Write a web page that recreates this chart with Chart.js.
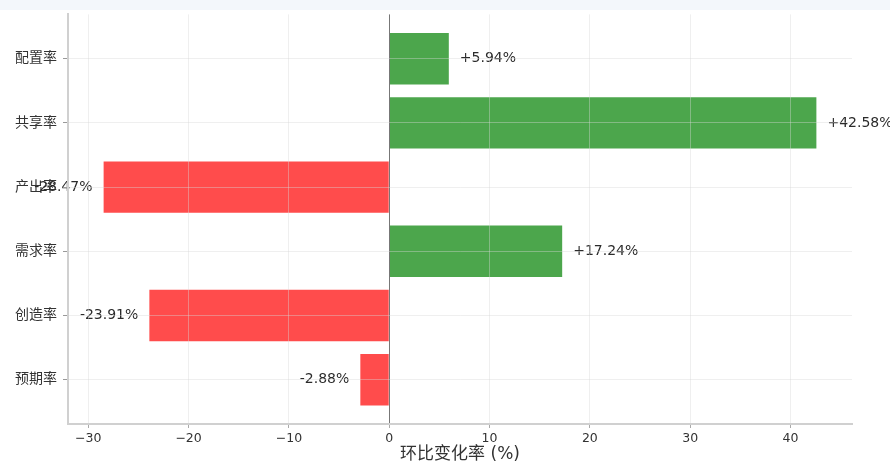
<!DOCTYPE html>
<html>
<head>
<meta charset="utf-8">
<script src="https://cdn.jsdelivr.net/npm/chart.js@4/dist/chart.umd.min.js"></script>
<style>
    html, body { margin: 0; padding: 0; background: #ffffff; }
    #wrap { position: relative; width: 890px; height: 462px; }
    #topStrip { position: absolute; left: 0; top: 0; width: 890px; height: 10px; background: #f3f7fb; z-index: 2; }
</style>
</head>
<body>
<div id="wrap">
    <div id="topStrip"></div>
    <canvas id="rateChart" width="890" height="462"></canvas>
</div>
<script>
// Categories (top to bottom) and month-over-month change in %
const categories = ['配置率', '共享率', '产出率', '需求率', '创造率', '预期率'];
const changes = [5.94, 42.58, -28.47, 17.24, -23.91, -2.88];
const xTickValues = [-30, -20, -10, 0, 10, 20, 30, 40];

const GREEN = 'rgba(0, 128, 0, 0.7)';
const RED = 'rgba(255, 0, 0, 0.7)';
const FONT = '"DejaVu Sans", "Noto Sans CJK SC", sans-serif';
const GRID = 'rgba(215, 215, 215, 0.4)';

// Draws "+5.94%" style labels next to each bar end
const valueLabels = {
    id: 'valueLabels',
    afterDatasetsDraw(chart) {
        const ctx = chart.ctx;
        const xs = chart.scales.x;
        const ys = chart.scales.y;
        ctx.save();
        ctx.font = '14px ' + FONT;
        ctx.fillStyle = '#2b2b2b';
        ctx.textBaseline = 'middle';
        changes.forEach((v, i) => {
            const y = ys.getPixelForValue(i);
            if (v >= 0) {
                ctx.textAlign = 'left';
                ctx.fillText('+' + v.toFixed(2) + '%', xs.getPixelForValue(v + 1.1), y);
            } else {
                ctx.textAlign = 'right';
                ctx.fillText(v.toFixed(2) + '%', xs.getPixelForValue(v - 1.1), y);
            }
        });
        ctx.restore();
    }
};

new Chart(document.getElementById('rateChart'), {
    type: 'bar',
    data: {
        datasets: [{
            data: changes.map((v, i) => ({ x: v, y: i })),
            backgroundColor: changes.map(v => v >= 0 ? GREEN : RED),
            borderWidth: 0,
            categoryPercentage: 1,
            barPercentage: 0.8
        }]
    },
    options: {
        responsive: false,
        animation: false,
        indexAxis: 'y',
        layout: { padding: { left: 0, right: 38, top: 9, bottom: 0 } },
        plugins: {
            legend: { display: false },
            tooltip: { enabled: false }
        },
        scales: {
            x: {
                type: 'linear',
                min: -32.02,
                max: 46.13,
                offset: false,
                afterBuildTicks(scale) {
                    scale.ticks = xTickValues.map(v => ({ value: v }));
                },
                afterFit(scale) { scale.height = 38; },
                grid: {
                    z: 1,
                    offset: false,
                    color: ctx => (ctx.tick && ctx.tick.value === 0) ? '#777777' : GRID,
                    lineWidth: 1,
                    tickLength: 4,
                    tickColor: '#aaaaaa'
                },
                border: { z: 2, color: '#d0d0d0', width: 2 },
                ticks: {
                    padding: 3,
                    color: '#333333',
                    font: { family: FONT, size: 12.5 },
                    callback: v => String(v).replace('-', '\u2212')
                },
                title: {
                    display: true,
                    text: '环比变化率 (%)',
                    color: '#333333',
                    font: { family: FONT, size: 17 },
                    padding: { top: 0, bottom: -3 }
                }
            },
            y: {
                type: 'linear',
                reverse: true,
                min: -0.69,
                max: 5.69,
                offset: false,
                afterBuildTicks(scale) {
                    scale.ticks = categories.map((c, i) => ({ value: i }));
                },
                afterFit(scale) { scale.width = 68; },
                grid: {
                    z: 1,
                    offset: false,
                    color: GRID,
                    lineWidth: 1,
                    tickLength: 5,
                    tickColor: '#999999'
                },
                border: { z: 2, color: '#d0d0d0', width: 2 },
                ticks: {
                    padding: 6,
                    color: '#333333',
                    font: { family: FONT, size: 14 },
                    callback: v => categories[v] || ''
                }
            }
        }
    },
    plugins: [valueLabels]
});
</script>
</body>
</html>
